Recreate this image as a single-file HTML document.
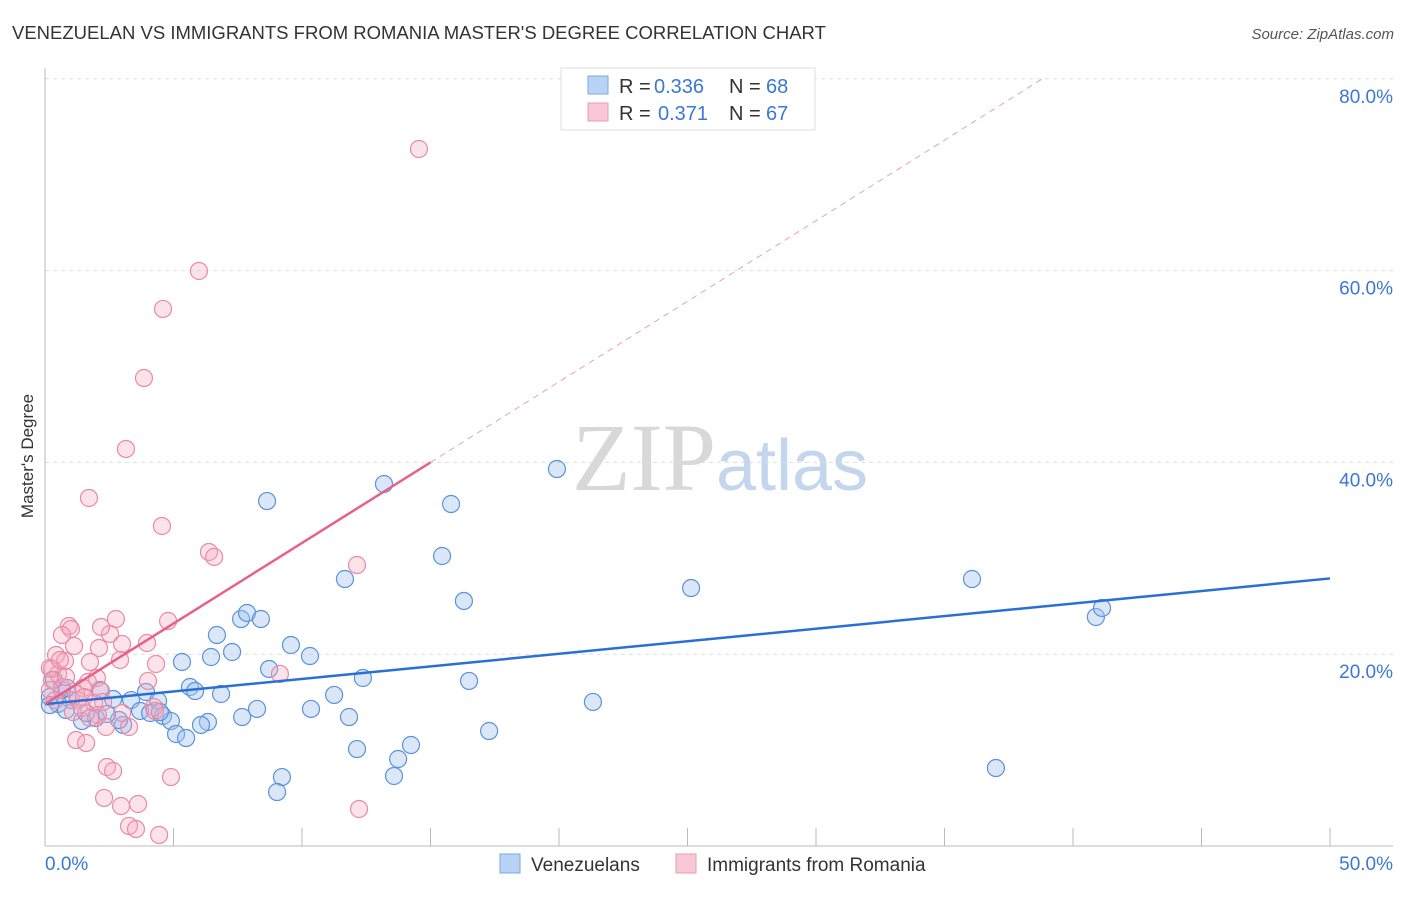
<!DOCTYPE html>
<html><head><meta charset="utf-8"><style>
body{margin:0;background:#fff;font-family:"Liberation Sans",sans-serif}
svg text{font-family:"Liberation Sans",sans-serif}
</style></head><body>
<svg id="chart" width="1406" height="892" xmlns="http://www.w3.org/2000/svg">
<text x="12" y="39" font-size="18.5" fill="#333">VENEZUELAN VS IMMIGRANTS FROM ROMANIA MASTER'S DEGREE CORRELATION CHART</text>
<text x="1394" y="39" font-size="15" fill="#555" text-anchor="end" font-style="italic">Source: ZipAtlas.com</text>
<text x="720" y="490" font-size="96" text-anchor="middle"><tspan fill="#d8d8d8" font-family="Liberation Serif">ZIP</tspan><tspan fill="#c4d6ee" font-size="72">atlas</tspan></text>
<text transform="translate(33,456) rotate(-90)" font-size="17" fill="#333" text-anchor="middle">Master's Degree</text>
<g id="grid"></g><g id="axes"></g><g id="marks"></g><g id="lines"></g>
<g>
<rect x="561" y="68" width="254" height="62" fill="#fff" stroke="#ddd"/>
<rect x="588" y="76" width="20" height="18" fill="#b8d3f5" stroke="#7aa8e0"/>
<text x="619" y="93" font-size="20" fill="#333">R =</text>
<text x="654" y="93" font-size="20" fill="#3a78d6">0.336</text>
<text x="729" y="93" font-size="20" fill="#333">N =</text>
<text x="766" y="93" font-size="20" fill="#3a78d6">68</text>
<rect x="588" y="103" width="20" height="18" fill="#f9c8d6" stroke="#eb9ab2"/>
<text x="619" y="120" font-size="20" fill="#333">R =</text>
<text x="658" y="120" font-size="20" fill="#3a78d6">0.371</text>
<text x="729" y="120" font-size="20" fill="#333">N =</text>
<text x="766" y="120" font-size="20" fill="#3a78d6">67</text>
</g>
<g>
<rect x="500" y="854" width="20" height="19" fill="#b8d3f5" stroke="#7aa8e0"/>
<text x="531" y="871" font-size="19" fill="#333">Venezuelans</text>
<rect x="676" y="854" width="20" height="19" fill="#f9c8d6" stroke="#eb9ab2"/>
<text x="707" y="871" font-size="19" fill="#333">Immigrants from Romania</text>
</g>
</svg>
<script>
const blueX=[8.64,13.19,15.80,19.92,15.45,11.67,16.30,25.14,36.07,40.89,41.13,7.63,7.86,8.40,6.69,9.57,10.31,7.28,6.46,5.33,8.72,12.37,16.50,5.64,5.84,6.85,3.93,2.65,3.35,4.40,11.25,21.32,8.25,10.35,7.67,11.83,3.70,4.09,4.59,4.90,6.34,6.07,3.04,2.88,1.98,1.44,2.41,1.01,0.51,0.19,0.66,0.86,2.14,5.10,5.49,12.14,17.28,14.24,13.74,13.58,9.22,9.03,37.00,0.19,1.60,0.35,4.47,0.82];
const blueY=[35.97,37.75,35.66,39.31,30.24,27.84,25.55,26.90,27.84,23.88,24.82,23.67,24.30,23.67,22.00,20.96,19.81,20.23,19.71,19.19,18.46,17.52,17.21,16.58,16.16,15.85,16.06,15.33,15.22,15.12,15.75,15.02,14.29,14.29,13.45,13.45,14.08,13.87,13.56,13.03,12.93,12.62,12.62,13.14,13.35,13.03,13.76,15.22,14.81,15.54,16.27,16.48,16.27,11.68,11.26,10.11,11.99,10.53,9.07,7.30,7.19,5.63,8.13,14.70,13.87,17.31,13.97,14.18];
const pinkX=[14.55,5.99,4.59,3.85,3.15,1.71,4.55,6.38,6.58,12.14,4.79,2.76,2.53,0.93,1.01,0.66,2.18,1.13,2.10,3.97,3.00,0.43,0.78,1.75,0.27,0.51,4.32,9.14,0.19,0.27,2.02,1.67,4.01,0.66,1.48,1.21,2.18,2.26,1.28,1.52,1.91,4.24,4.28,3.00,1.09,2.06,2.37,3.27,1.21,1.60,2.41,2.65,4.90,2.30,2.96,3.62,3.27,3.54,4.44,12.22,0.19,0.39,0.58,1.44,1.75,0.82,2.92];
const pinkY=[72.68,59.96,56.00,48.80,41.40,36.29,33.37,30.66,30.14,29.30,23.46,23.67,22.11,22.94,22.63,22.00,22.84,20.86,20.65,21.17,21.06,19.92,19.29,19.19,18.46,17.94,18.98,17.94,18.56,17.31,17.52,17.10,17.21,16.58,16.48,15.85,16.16,15.02,15.22,15.54,14.91,14.49,14.08,13.87,13.97,13.66,12.41,12.41,11.05,10.74,8.24,7.82,7.19,5.01,4.17,4.38,2.09,1.77,1.15,3.86,16.27,15.22,19.40,14.39,13.35,17.62,19.40];
const yTicks=[20,40,60,80];
const yTickLabels=["20.0%","40.0%","60.0%","80.0%"];
const xTicks=[0,5,10,15,20,25,30,35,40,45,50];
const blueTrend=[14.8,27.9];
const pinkTrend=[14.8,40.0];
const pinkTrendEndX=15;

const NS="http://www.w3.org/2000/svg";
const sx=v=>45+v*25.7, sy=v=>846-v*9.59;
function mk(tag,attrs,parent){const e=document.createElementNS(NS,tag);for(const k in attrs)e.setAttribute(k,attrs[k]);parent.appendChild(e);return e;}
const grid=document.getElementById('grid'),axes=document.getElementById('axes'),marks=document.getElementById('marks'),lines=document.getElementById('lines');
yTicks.forEach((t,i)=>{
 const l=mk('line',{x1:45,x2:1393,y1:sy(t),y2:sy(t),stroke:'#ddd','stroke-dasharray':'4 4'},grid);
 
 
 const tx=mk('text',{x:1393,y:sy(t)+24,'font-size':19,fill:'#3a78d6','text-anchor':'end'},axes);
 tx.textContent=yTickLabels[i];
 
 
});
const ax=mk('line',{x1:45,x2:1393,y1:846,y2:846,stroke:'#bbb'},axes);


const ay=mk('line',{x1:45,x2:45,y1:68,y2:846,stroke:'#bbb'},axes);


xTicks.forEach(t=>{
 const l=mk('line',{x1:sx(t),x2:sx(t),y1:828,y2:846,stroke:'#bbb'},axes);
 
 
});
const xl0=mk('text',{x:45,y:870,'font-size':19,fill:'#3a78d6'},axes);xl0.textContent="0.0%";


const xl1=mk('text',{x:1393,y:870,'font-size':19,fill:'#3a78d6','text-anchor':'end'},axes);xl1.textContent="50.0%";


blueX.forEach((x,i)=>{
 const c=mk('circle',{cx:sx(x),cy:sy(blueY[i]),r:8.5,fill:'rgba(160,196,240,0.4)',stroke:'#5b93d8','stroke-width':1.2},marks);
 
 
});
pinkX.forEach((x,i)=>{
 const c=mk('circle',{cx:sx(x),cy:sy(pinkY[i]),r:8.5,fill:'rgba(245,170,190,0.33)',stroke:'#e98aa6','stroke-width':1.2},marks);
 
 
});
const bl=mk('line',{x1:sx(0),y1:sy(blueTrend[0]),x2:sx(50),y2:sy(blueTrend[1]),stroke:'#2a6fd6','stroke-width':2.5},lines);


const slope=(pinkTrend[1]-pinkTrend[0])/pinkTrendEndX;
const pl=mk('line',{x1:sx(0),y1:sy(pinkTrend[0]),x2:sx(pinkTrendEndX),y2:sy(pinkTrend[1]),stroke:'#e8608a','stroke-width':2.5},lines);


const xEnd=(80-pinkTrend[0])/slope;
const pd=mk('line',{x1:sx(pinkTrendEndX),y1:sy(pinkTrend[1]),x2:sx(xEnd),y2:sy(80),stroke:'#eaa0b6','stroke-width':1,'stroke-dasharray':'6 5'},lines);


</script>
</body></html>
